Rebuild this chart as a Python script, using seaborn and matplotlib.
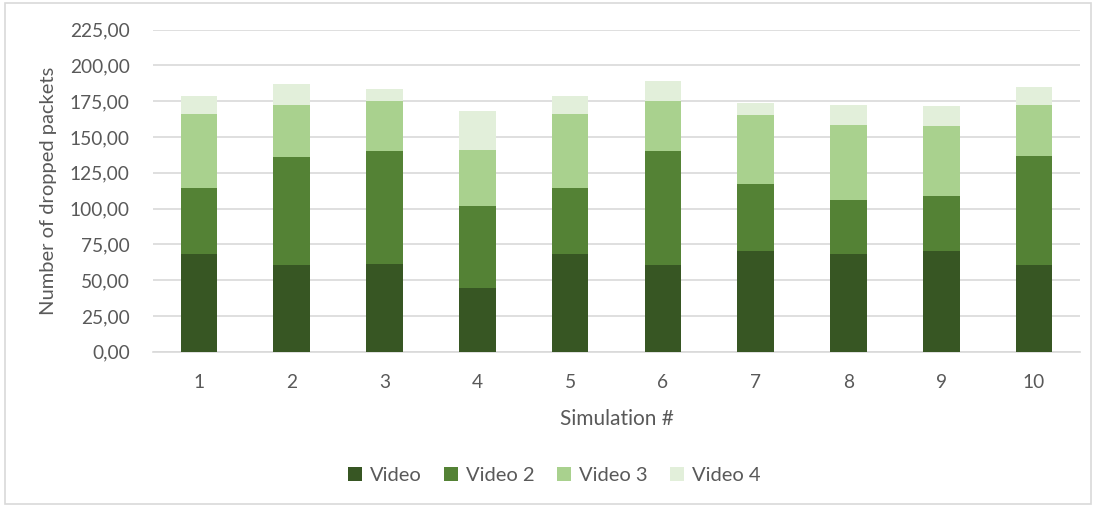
import matplotlib
matplotlib.use("Agg")
import matplotlib.pyplot as plt
from matplotlib.patches import Patch, Rectangle
from matplotlib.ticker import FuncFormatter, MultipleLocator
import numpy as np
import pandas as pd
import seaborn as sns

# Dropped packets per video stream for each simulation run
simulations = ["1", "2", "3", "4", "5", "6", "7", "8", "9", "10"]
video = [68.2, 60.2, 60.9, 44.8, 68.2, 60.7, 70.5, 68.2, 70.5, 60.7]
video2 = [46.2, 76.1, 79.4, 57.0, 46.2, 79.6, 46.7, 37.6, 38.5, 76.3]
video3 = [51.8, 35.7, 35.0, 39.2, 51.8, 34.8, 48.1, 52.3, 48.4, 35.0]
video4 = [12.4, 14.8, 8.0, 26.9, 12.4, 14.0, 8.2, 14.0, 14.0, 12.7]

series_names = ["Video", "Video 2", "Video 3", "Video 4"]
series_values = [video, video2, video3, video4]
colors = ["#375623", "#548235", "#A9D18E", "#E2EFDA"]

sns.set_theme(style="white")
plt.rcParams["font.family"] = ["Lato", "DejaVu Sans"]

fig = plt.figure(figsize=(10.96, 5.07), dpi=100)
ax = fig.add_axes([0.1392, 0.3063, 0.8466, 0.6355])

# Stacked bars: draw cumulative totals from the top segment down
cumulative = np.cumsum(np.array(series_values), axis=0)
for name, totals, color in reversed(list(zip(series_names, cumulative, colors))):
    df = pd.DataFrame({"Simulation #": simulations, "value": totals})
    sns.barplot(data=df, x="Simulation #", y="value", color=color,
                width=0.395, saturation=1, ax=ax, zorder=3, linewidth=0)

ax.set_ylim(0, 225)
ax.set_xlim(-0.5, len(simulations) - 0.5)
ax.yaxis.set_major_locator(MultipleLocator(25))
ax.yaxis.set_major_formatter(FuncFormatter(lambda v, p: f"{v:.2f}".replace(".", ",")))
ax.grid(axis="y", color="#D9D9D9", linewidth=1.2, zorder=0)
ax.set_axisbelow(True)

for side in ["top", "right", "left"]:
    ax.spines[side].set_visible(False)
ax.spines["bottom"].set_color("#D9D9D9")
ax.spines["bottom"].set_linewidth(1.2)

ax.tick_params(axis="both", length=0, labelsize=13.8, colors="#595959")
ax.tick_params(axis="x", pad=16)
ax.tick_params(axis="y", pad=16.5)
ax.set_xlabel("Simulation #", fontsize=15, color="#595959", labelpad=13)
ax.set_ylabel("Number of dropped packets", fontsize=14.5, color="#595959", labelpad=9)

handles = [Patch(facecolor=c, edgecolor="none") for c in colors]
fig.legend(handles, series_names, loc="center", bbox_to_anchor=(0.506, 0.063),
           ncol=4, frameon=False, fontsize=14.5, labelcolor="#595959",
           handlelength=0.7, handleheight=0.7, columnspacing=1.1, handletextpad=0.4)

# Light frame around the whole chart
fig.patches.append(Rectangle((0.005, 0.005), 0.99, 0.99, transform=fig.transFigure,
                             fill=False, edgecolor="#D9D9D9", linewidth=1.2))

fig.savefig("out.png", dpi=100, facecolor="white")
